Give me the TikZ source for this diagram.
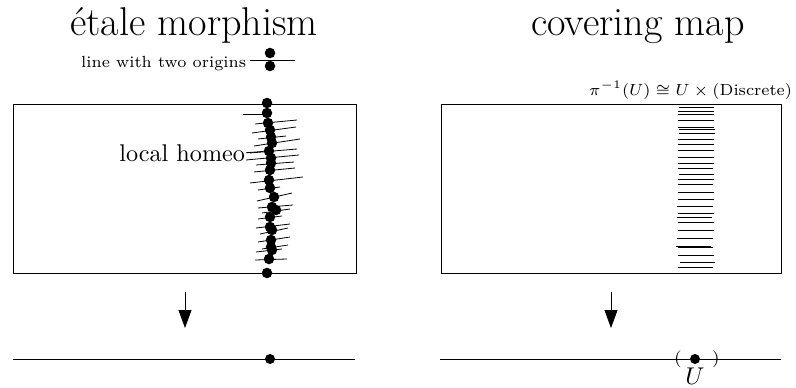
\documentclass[tikz,border=0pt]{standalone}
\usetikzlibrary{arrows.meta}
\begin{document}
\begin{tikzpicture}[x=1pt,y=-1pt,line width=0.8pt,
  txt/.style={inner sep=0pt,scale=2.42},
  small/.style={inner sep=0pt,scale=2.3},
  pt/.style={circle,fill,inner sep=0pt,minimum size=10.5pt},
  seg/.style={line width=0.8pt},
  fibre/.style={line width=0.9pt},
  down/.style={-{Triangle[width=13pt,length=18pt]},line width=0.8pt}]
\useasboundingbox (0,0) rectangle (796,388);

% ---------------- left: etale morphism ----------------
\node[txt,anchor=base] (t1) at (194,35) {\fontsize{16.6}{19}\selectfont étale morphism};

% line with two origins
\node[small,anchor=base east] (lwo) at (247,67) {\scriptsize line with two origins};
\coordinate (lwoL) at (250,60);
\coordinate (lwoR) at (295,60);
\draw (lwoL) -- (lwoR);
\node[pt] (o1) at (270,53) {};
\node[pt] (o2) at (270,66) {};

% total space
\node[draw,inner sep=0pt,minimum width=343pt,minimum height=169pt,anchor=north west] (E1) at (13,103.5) {};

% slanted local sheets through the stalk
\foreach \xa/\ya/\xb/\yb in {
  243/114/268/114, 255/124/297/120, 252/133/296/127, 258/139/286/136,
  254/146/300/139, 250/153/297/149, 246/160/299/155, 256/165/294/162,
  254/172/295/168, 250/183/303/177, 258/190/280/187, 257/201/292/193,
  258/208/293/205, 262/213/290/209, 258/219/282/216, 256/228/290/224,
  260/234/288/228, 258/242/290/237, 262/249/288/245, 256/252/282/249,
  255/260/287/259}
  \draw[seg] (\xa,\ya) -- (\xb,\yb);

\foreach \n/\x/\y in {a/267/103, b/267/113, c/268/123, d/270/130, e/271/137,
  f/272/143, g/269/151, h/271/158, i/271/163, j/270/170, k/269/180, l/270/188,
  m/274/197, n/272/207, o/276/210, p/270/217, q/270/227, r/272/230, s/271/240,
  t/271/247, u/272/250, v/269/259, w/267/273}
  \node[pt] (s\n) at (\x,\y) {};

\node[txt,anchor=base east] (homeo) at (246,161) {local homeo};
\draw[seg] (homeo.east) -- (sg);

% projection and base
\coordinate (a1s) at (185,292);
\coordinate (a1e) at (185,328);
\draw[down] (a1s) -- (a1e);
\coordinate (b1L) at (13,359);
\coordinate (b1R) at (355,359);
\draw (b1L) -- (b1R);
\node[pt,minimum size=10pt] (x1) at (270,359) {};

% ---------------- right: covering map ----------------
\node[txt,anchor=base] (t2) at (638,35) {\fontsize{16.6}{19}\selectfont covering map};

\node[draw,inner sep=0pt,minimum width=340pt,minimum height=169pt,anchor=north west] (E2) at (441,103.5) {};

\node[small,anchor=base east] (disc) at (793,95) {\scriptsize $\pi^{-1}(U)\cong U\times{}$(Discrete)};

% the sheets over U
\foreach \y/\xa/\xb in {107/679/714, 111/678/714, 114/678/714, 120/678/714,
  127/678/714, 129/679/715, 133/679/715, 139/678/714, 144/678/714, 150/678/714,
  157/678/714, 163/678/714, 168/678/713, 174/679/714, 179/678/714, 184/678/713,
  192/678/714, 199/678/714, 206/677/713, 213/678/714, 217/677/712, 222/678/714,
  230/678/714, 238/677/713, 246/676/711, 247/678/713, 255/678/714, 262/680/715,
  267/678/713}
  \draw[fibre] (\xa,\y) -- (\xb,\y);

\coordinate (a2s) at (611,292);
\coordinate (a2e) at (611,328);
\draw[down] (a2s) -- (a2e);
\coordinate (b2L) at (440,359);
\coordinate (b2R) at (781,359);
\draw (b2L) -- (b2R);
\node[pt,minimum size=10pt] (x2) at (695,359) {};
\node[txt] (lp) at (678,359) {\scriptsize (};
\node[txt] (rp) at (716,359) {\scriptsize )};
\node[txt] (U) at (695,376) {$U$};
\end{tikzpicture}
\end{document}
